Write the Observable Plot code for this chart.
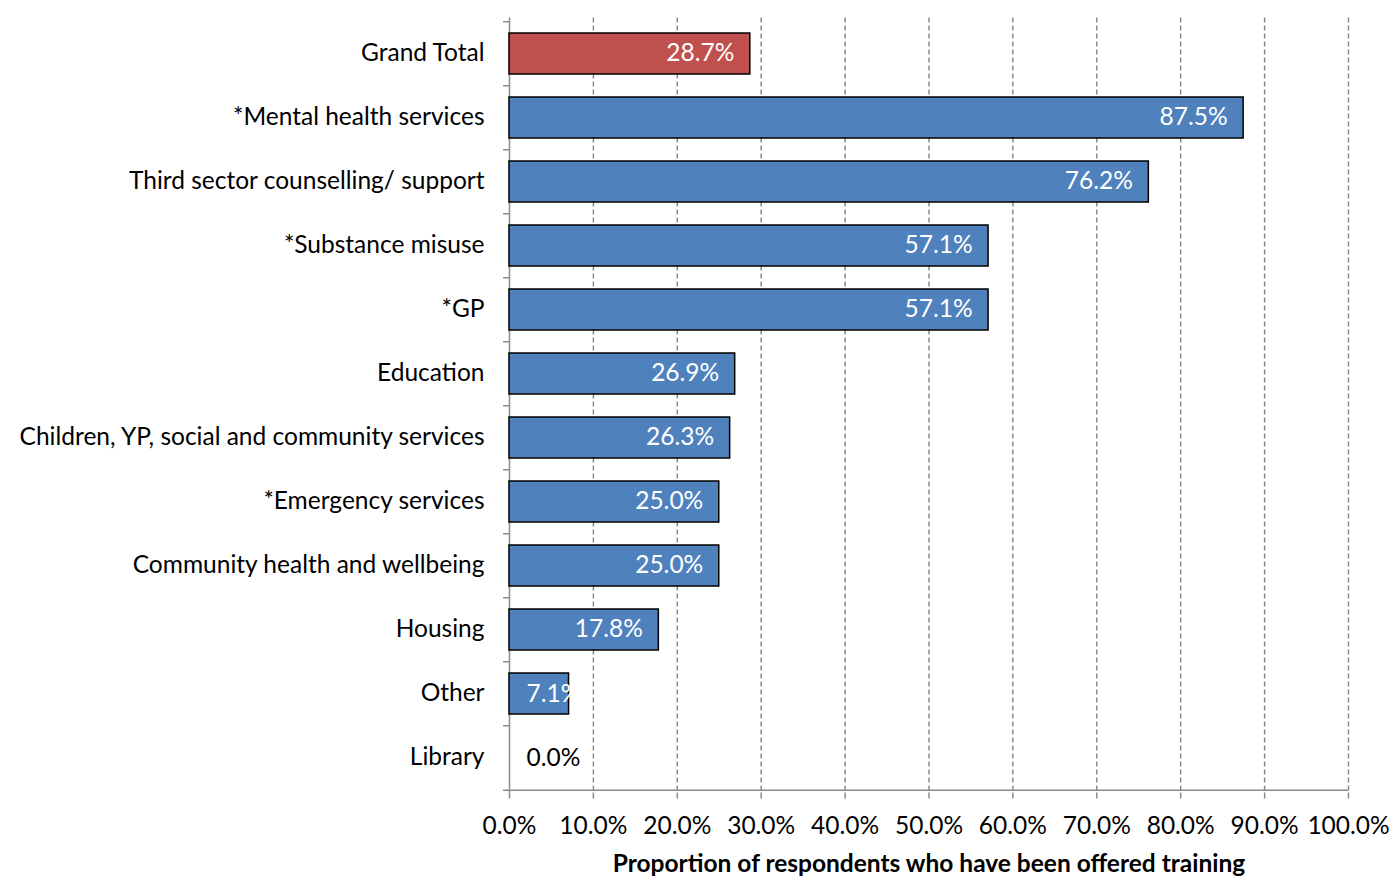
<!DOCTYPE html>
<html>
<head>
<meta charset="utf-8">
<script src="https://cdn.jsdelivr.net/npm/d3@7"></script>
<script src="https://cdn.jsdelivr.net/npm/@observablehq/plot@0.6"></script>
<style>
  html, body { margin: 0; padding: 0; background: white; }
</style>
</head>
<body>
<div id="chart"></div>
<script>
const categories = [
  "Grand Total",
  "*Mental health services",
  "Third sector counselling/ support",
  "*Substance misuse",
  "*GP",
  "Education",
  "Children, YP, social and community services",
  "*Emergency services",
  "Community health and wellbeing",
  "Housing",
  "Other",
  "Library"
];
const values = [0.287, 0.875, 0.762, 0.571, 0.571, 0.269, 0.263, 0.25, 0.25, 0.178, 0.071, 0.0];
const xTicks = [0, 0.1, 0.2, 0.3, 0.4, 0.5, 0.6, 0.7, 0.8, 0.9, 1.0];
const xLabel = "Proportion of respondents who have been offered training";

const data = categories.map((c, i) => ({category: c, value: values[i], total: c === "Grand Total"}));

const W = 1391, H = 879;
const mL = 509, mR = 43, mT = 17.5, mB = 86.5;
const step = (H - mT - mB) / categories.length;
const gray = "#8a8a8a";
const fmt = d3.format(".1%");
const FS = 24.5;

const chart = Plot.plot({
  width: W,
  height: H,
  marginLeft: mL,
  marginRight: mR,
  marginTop: mT,
  marginBottom: mB,
  style: {fontFamily: "Lato, 'Open Sans', sans-serif", fontSize: FS + "px", color: "black", background: "white"},
  x: {domain: [0, 1], label: null},
  y: {domain: categories, paddingInner: 0.36, paddingOuter: 0.18, label: null},
  marks: [
    Plot.ruleX(xTicks.slice(1), {stroke: gray, strokeWidth: 1.5, strokeDasharray: "5,3"}),
    Plot.ruleX([0], {stroke: gray, strokeWidth: 1.5}),
    Plot.ruleY(categories, {x1: 0, x2: 0, insetLeft: -6, dy: -step / 2, stroke: gray, strokeWidth: 1.5}),
    Plot.ruleY([categories[categories.length - 1]], {x1: 0, x2: 1, insetLeft: -6, dy: step / 2, stroke: gray, strokeWidth: 1.5}),
    Plot.barX(data.filter(d => d.value > 0), {
      x: "value", y: "category",
      fill: d => d.total ? "#C0504D" : "#4F81BD",
      stroke: "black", strokeWidth: 1.5
    }),
    Plot.text(data.filter(d => d.value >= 0.1), {
      x: "value", y: "category", text: d => fmt(d.value),
      textAnchor: "end", dx: -16, dy: -1, fill: "white", fontSize: FS
    }),
    Plot.text(data.filter(d => d.value < 0.1), {
      x: () => 0, y: "category", text: d => fmt(d.value),
      textAnchor: "start", dx: 17, dy: 0, fill: d => d.value > 0 ? "white" : "black", fontSize: FS
    }),
    Plot.axisX({ticks: xTicks, tickFormat: ".1%", tickSize: 6, tickPadding: 18, stroke: gray, strokeWidth: 1.5, fill: "black", fontSize: FS, label: null}),
    Plot.axisY({tickSize: 0, tickPadding: 25, dy: -1, fill: "black", fontSize: FS, label: null}),
    Plot.text([xLabel], {frameAnchor: "bottom", dy: 79, fontWeight: "bold", fontSize: FS, fill: "black"})
  ]
});

document.getElementById("chart").appendChild(chart);
</script>
</body>
</html>
